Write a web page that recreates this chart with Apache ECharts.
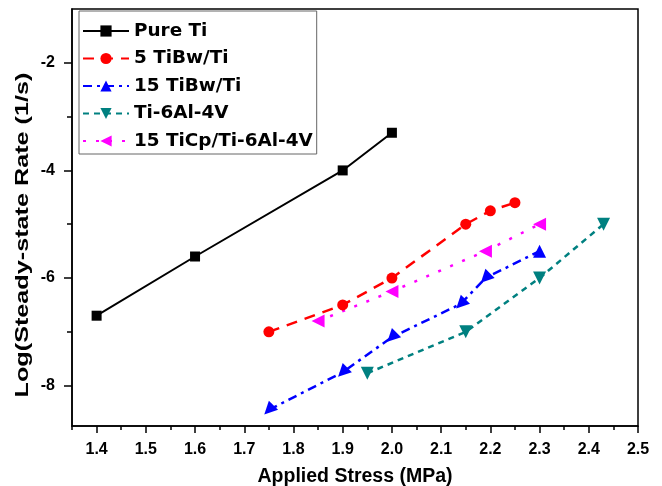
<!DOCTYPE html>
<html>
<head>
<meta charset="utf-8">
<script src="https://cdn.jsdelivr.net/npm/echarts@6/dist/echarts.min.js"></script>
<style>
html,body{margin:0;padding:0;background:#fff;}
#c{width:662px;height:486px;}
</style>
</head>
<body>
<div id="c"></div>
<script>
var seriesNames = ['Pure Ti', '5 TiBw/Ti', '15 TiBw/Ti', 'Ti-6Al-4V', '15 TiCp/Ti-6Al-4V'];
var pureTiX = [1.4, 1.6, 1.9, 2.0];
var pureTiY = [-6.7, -5.6, -4.0, -3.3];
var tibw5X = [1.75, 1.9, 2.0, 2.15, 2.2, 2.25];
var tibw5Y = [-7.0, -6.5, -6.0, -5.0, -4.75, -4.6];
var tibw15X = [1.75, 1.9, 2.0, 2.14, 2.19, 2.3];
var tibw15Y = [-8.45, -7.75, -7.1, -6.48, -6.0, -5.5];
var ti64X = [1.95, 2.15, 2.3, 2.43];
var ti64Y = [-7.77, -7.0, -6.0, -5.0];
var ticpX = [1.85, 2.0, 2.19, 2.3];
var ticpY = [-6.8, -6.25, -5.5, -5.0];
var xTicks = [1.4, 1.5, 1.6, 1.7, 1.8, 1.9, 2.0, 2.1, 2.2, 2.3, 2.4, 2.5];
var xMinorTicks = [1.35, 1.45, 1.55, 1.65, 1.75, 1.85, 1.95, 2.05, 2.15, 2.25, 2.35, 2.45];
var yTicks = [-8, -6, -4, -2];
var yMinorTicks = [-7, -5, -3];
var xTitle = 'Applied Stress (MPa)';
var yTitle = 'Log(Steady-state Rate (1/s)';

function pts(xs, ys) { return xs.map(function (x, i) { return [x, ys[i]]; }); }

var blueRot = [135, 135, 135, 135, 135, 0];
var blueData = pts(tibw15X, tibw15Y).map(function (p, i) {
  return { value: p, symbolRotate: blueRot[i] };
});

var font = 'Liberation Sans, Arial, sans-serif';
var chart = echarts.init(document.getElementById('c'), null, { renderer: 'canvas' });
var xRange = { min: 1.35, max: 2.5 };
var yRange = { min: -8.75, max: -1 };

chart.setOption({
  animation: false,
  backgroundColor: '#ffffff',
  grid: { left: 72, right: 24, top: 9, bottom: 60, outerBoundsMode: 'none', containLabel: false,
    show: true, borderColor: '#000', borderWidth: 1.5, backgroundColor: 'transparent' },
  legend: {
    orient: 'vertical', left: 79, top: 11,
    itemWidth: 46, itemHeight: 14, itemGap: 9.5,
    padding: [11, 4, 4, 3],
    borderColor: '#666', borderWidth: 1,
    backgroundColor: '#fff',
    textStyle: { fontFamily: 'DejaVu Sans', fontWeight: 'bold', fontSize: 18.4, color: '#000' },
    data: seriesNames
  },
  graphic: [{
    type: 'text', x: 23, y: 235, rotation: Math.PI / 2, scaleX: 1.4, scaleY: 1,
    style: { text: yTitle, font: 'bold 18px "Liberation Sans", Arial, sans-serif', fill: '#000', align: 'center', verticalAlign: 'middle' }
  }],
  xAxis: [{
    type: 'value', min: xRange.min, max: xRange.max, position: 'bottom',
    name: xTitle, nameLocation: 'middle', nameGap: 41,
    nameTextStyle: { fontFamily: font, fontWeight: 'bold', fontSize: 19.5, color: '#000' },
    axisLine: { show: true, lineStyle: { color: '#000', width: 1.5 } },
    axisTick: { show: true, length: 7, inside: false, customValues: xTicks, lineStyle: { color: '#000', width: 1.5 } },
    axisLabel: { customValues: xTicks, margin: 16, fontFamily: font, fontWeight: 'bold', fontSize: 16, color: '#000',
      formatter: function (v) { return v.toFixed(1); } },
    splitLine: { show: false }
  }, {
    type: 'value', min: xRange.min, max: xRange.max, position: 'bottom',
    axisLine: { show: false },
    axisTick: { show: true, length: 4, customValues: xMinorTicks, lineStyle: { color: '#000', width: 1.5 } },
    axisLabel: { show: false },
    splitLine: { show: false }
  }],
  yAxis: [{
    type: 'value', min: yRange.min, max: yRange.max, position: 'left',
    axisLine: { show: true, lineStyle: { color: '#000', width: 1.5 } },
    axisTick: { show: true, length: 8, customValues: yTicks, lineStyle: { color: '#000', width: 1.5 } },
    axisLabel: { customValues: yTicks, margin: 17, fontFamily: font, fontWeight: 'bold', fontSize: 16, color: '#000' },
    splitLine: { show: false }
  }, {
    type: 'value', min: yRange.min, max: yRange.max, position: 'left',
    axisLine: { show: false },
    axisTick: { show: true, length: 5, customValues: yMinorTicks, lineStyle: { color: '#000', width: 1.5 } },
    axisLabel: { show: false },
    splitLine: { show: false }
  }],
  series: [{
    name: seriesNames[0], type: 'line', data: pts(pureTiX, pureTiY),
    symbol: 'rect', symbolSize: 10, color: '#000',
    lineStyle: { color: '#000', width: 2, type: 'solid' },
    itemStyle: { color: '#000' }
  }, {
    name: seriesNames[1], type: 'line', data: pts(tibw5X, tibw5Y),
    symbol: 'circle', symbolSize: 11, color: '#ff0000',
    lineStyle: { color: '#ff0000', width: 2.5, type: [11, 8] },
    itemStyle: { color: '#ff0000' }
  }, {
    name: seriesNames[2], type: 'line', data: blueData,
    symbol: 'triangle', symbolSize: 13, color: '#0000ff',
    lineStyle: { color: '#0000ff', width: 2.5, type: [9, 5, 3, 5] },
    itemStyle: { color: '#0000ff' }
  }, {
    name: seriesNames[3], type: 'line', data: pts(ti64X, ti64Y),
    symbol: 'triangle', symbolRotate: 180, symbolSize: 13, color: '#008080',
    lineStyle: { color: '#008080', width: 2.5, type: [6, 5] },
    itemStyle: { color: '#008080' }
  }, {
    name: seriesNames[4], type: 'line', data: pts(ticpX, ticpY),
    symbol: 'triangle', symbolRotate: 90, symbolSize: 13, color: '#ff00ff',
    lineStyle: { color: '#ff00ff', width: 2.5, type: [3, 10] },
    itemStyle: { color: '#ff00ff' }
  }]
});
</script>
</body>
</html>
